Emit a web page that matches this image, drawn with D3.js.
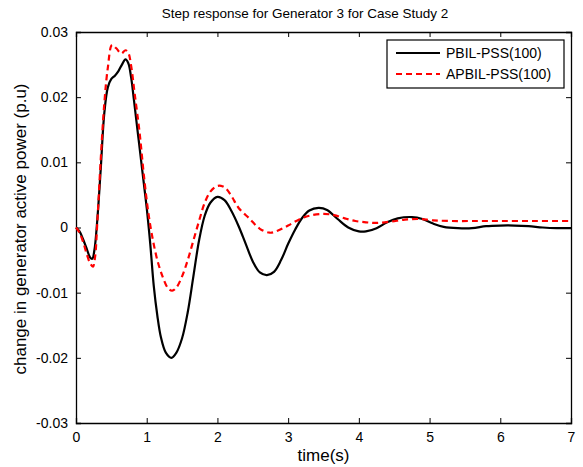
<!DOCTYPE html>
<html>
<head>
<meta charset="utf-8">
<script src="https://cdn.jsdelivr.net/npm/d3@7"></script>
<style>
  body { margin: 0; background: #fff; }
  text { font-family: "Liberation Sans", Arial, sans-serif; fill: #000; }
</style>
</head>
<body>
<div id="chart"></div>
<script>
var svgWidth = 583;
var svgHeight = 467;
var margin = { top: 32, right: 12, bottom: 44, left: 76 };
var width = 571 - margin.left;
var height = 423 - margin.top;

// time (s) and response values
var pbilTime = [0, 0.05, 0.10, 0.15, 0.20, 0.23, 0.26, 0.30, 0.35, 0.40, 0.45, 0.50, 0.55, 0.60, 0.65, 0.70,
  0.74, 0.78, 0.82, 0.88, 0.94, 1.00, 1.05, 1.10, 1.15, 1.20, 1.27, 1.35, 1.42, 1.50, 1.58, 1.66, 1.74,
  1.82, 1.90, 2.00, 2.10, 2.20, 2.30, 2.40, 2.50, 2.60, 2.70, 2.80, 2.90, 3.00, 3.10, 3.20, 3.30, 3.43,
  3.55, 3.70, 3.85, 4.00, 4.10, 4.25, 4.40, 4.55, 4.75, 4.90, 5.05, 5.20, 5.40, 5.60, 5.80, 6.00, 6.20,
  6.40, 6.60, 6.80, 7.00];
var pbilValues = [0, -0.0006, -0.0018, -0.0032, -0.0046, -0.0048, -0.0035, 0.0010, 0.0090, 0.0175, 0.0215,
  0.0228, 0.0233, 0.0240, 0.0250, 0.0258, 0.0252, 0.0230, 0.0195, 0.0140, 0.0085, 0.0030, -0.0025, -0.0090,
  -0.0135, -0.0168, -0.0192, -0.0200, -0.0192, -0.0170, -0.0130, -0.0075, -0.0020, 0.0018, 0.0038, 0.0047,
  0.0042, 0.0025, 0.0002, -0.0025, -0.0052, -0.0069, -0.0073, -0.0068, -0.0050, -0.0025, -0.0003, 0.0015,
  0.0026, 0.0030, 0.0027, 0.0013, 0.0000, -0.0006, -0.0006, -0.0001, 0.0008, 0.0014, 0.0016, 0.0013,
  0.0006, 0.0001, -0.0001, -0.0001, 0.0002, 0.0003, 0.0003, 0.0002, 0.0000, -0.0001, -0.0001];

var apbilTime = [0, 0.05, 0.10, 0.15, 0.20, 0.24, 0.27, 0.30, 0.35, 0.40, 0.45, 0.51, 0.57, 0.64, 0.70,
  0.74, 0.78, 0.83, 0.90, 0.96, 1.02, 1.08, 1.15, 1.23, 1.30, 1.36, 1.42, 1.50, 1.58, 1.66, 1.74, 1.82,
  1.90, 1.98, 2.05, 2.12, 2.20, 2.30, 2.45, 2.60, 2.74, 2.85, 3.00, 3.15, 3.30, 3.50, 3.65, 3.80, 3.95,
  4.10, 4.25, 4.45, 4.65, 4.85, 5.05, 5.30, 5.60, 6.00, 6.50, 7.00];
var apbilValues = [0, -0.0008, -0.0022, -0.0040, -0.0055, -0.0060, -0.0045, 0.0005, 0.0105, 0.0190, 0.0245,
  0.0280, 0.0275, 0.0267, 0.0272, 0.0268, 0.0248, 0.0205, 0.0145, 0.0080, 0.0025, -0.0015, -0.0050, -0.0077,
  -0.0093, -0.0097, -0.0092, -0.0075, -0.0050, -0.0020, 0.0010, 0.0038, 0.0055, 0.0063, 0.0064, 0.0060,
  0.0048, 0.0030, 0.0014, -0.0002, -0.0008, -0.0005, 0.0003, 0.0012, 0.0018, 0.0021, 0.0019, 0.0014,
  0.0010, 0.0008, 0.0007, 0.0009, 0.0012, 0.0013, 0.0011, 0.0010, 0.0010, 0.0010, 0.0010, 0.0010];

var xTicks = [0, 1, 2, 3, 4, 5, 6, 7];
var yTicks = [-0.03, -0.02, -0.01, 0, 0.01, 0.02, 0.03];
var yTickLabels = ["-0.03", "-0.02", "-0.01", "0", "0.01", "0.02", "0.03"];
var seriesNames = ["PBIL-PSS(100)", "APBIL-PSS(100)"];

var svg = d3.select("#chart")
  .append("svg")
  .attr("width", svgWidth)
  .attr("height", svgHeight);

var chartGroup = svg.append("g")
  .attr("transform", `translate(${margin.left}, ${margin.top})`);

var xScale = d3.scaleLinear().domain([0, 7]).range([0, width]);
var yScale = d3.scaleLinear().domain([-0.03, 0.03]).range([height, 0]);

// matlab style inward ticks on all four sides
var bottomAxis = d3.axisBottom(xScale).tickValues(xTicks).tickSize(-5).tickPadding(9).tickFormat(d3.format("d"));
var topAxis = d3.axisTop(xScale).tickValues(xTicks).tickSize(-5).tickFormat("");
var leftAxis = d3.axisLeft(yScale).tickValues(yTicks).tickSize(-5).tickPadding(8)
  .tickFormat((d, i) => yTickLabels[i]);
var rightAxis = d3.axisRight(yScale).tickValues(yTicks).tickSize(-5).tickFormat("");

function styleAxis(g) {
  g.selectAll("path").attr("stroke", "#000").attr("stroke-width", 1.3);
  g.selectAll("line").attr("stroke", "#000");
  g.selectAll("text").style("font-size", "14px").attr("fill", "#000");
}

chartGroup.append("g").attr("transform", `translate(0, ${height})`).call(bottomAxis).call(styleAxis);
chartGroup.append("g").call(topAxis).call(styleAxis);
chartGroup.append("g").call(leftAxis).call(styleAxis);
chartGroup.append("g").attr("transform", `translate(${width}, 0)`).call(rightAxis).call(styleAxis);

var line = d3.line()
  .x(d => xScale(d[0]))
  .y(d => yScale(d[1]))
  .curve(d3.curveCatmullRom.alpha(0.5));

var pbilData = pbilTime.map((t, i) => [t, pbilValues[i]]);
var apbilData = apbilTime.map((t, i) => [t, apbilValues[i]]);

chartGroup.append("path")
  .datum(pbilData)
  .attr("d", line)
  .attr("fill", "none")
  .attr("stroke", "#000")
  .attr("stroke-width", 2.2);

chartGroup.append("path")
  .datum(apbilData)
  .attr("d", line)
  .attr("fill", "none")
  .attr("stroke", "#ff0000")
  .attr("stroke-width", 2.2)
  .attr("stroke-dasharray", "6,4");

// legend
var legend = svg.append("g").attr("transform", "translate(387, 40)");
legend.append("rect")
  .attr("width", 177)
  .attr("height", 48)
  .attr("fill", "#fff")
  .attr("stroke", "#000")
  .attr("stroke-width", 1.2);
seriesNames.forEach(function(name, i) {
  var y = 13 + i * 21;
  legend.append("line")
    .attr("x1", 9).attr("x2", 53)
    .attr("y1", y).attr("y2", y)
    .attr("stroke", i === 0 ? "#000" : "#ff0000")
    .attr("stroke-width", 2.2)
    .attr("stroke-dasharray", i === 0 ? null : "6,4");
  legend.append("text")
    .attr("x", 59)
    .attr("y", y + 5)
    .style("font-size", "14px")
    .text(name);
});

// title and axis labels
svg.append("text")
  .attr("x", 305)
  .attr("y", 18)
  .attr("text-anchor", "middle")
  .style("font-size", "13.5px")
  .text("Step response for Generator 3 for Case Study 2");

svg.append("text")
  .attr("x", margin.left + width / 2)
  .attr("y", 461)
  .attr("text-anchor", "middle")
  .style("font-size", "17px")
  .text("time(s)");

svg.append("text")
  .attr("transform", "translate(26, 229) rotate(-90)")
  .attr("text-anchor", "middle")
  .style("font-size", "17px")
  .text("change in generator active power (p.u)");
</script>
</body>
</html>
